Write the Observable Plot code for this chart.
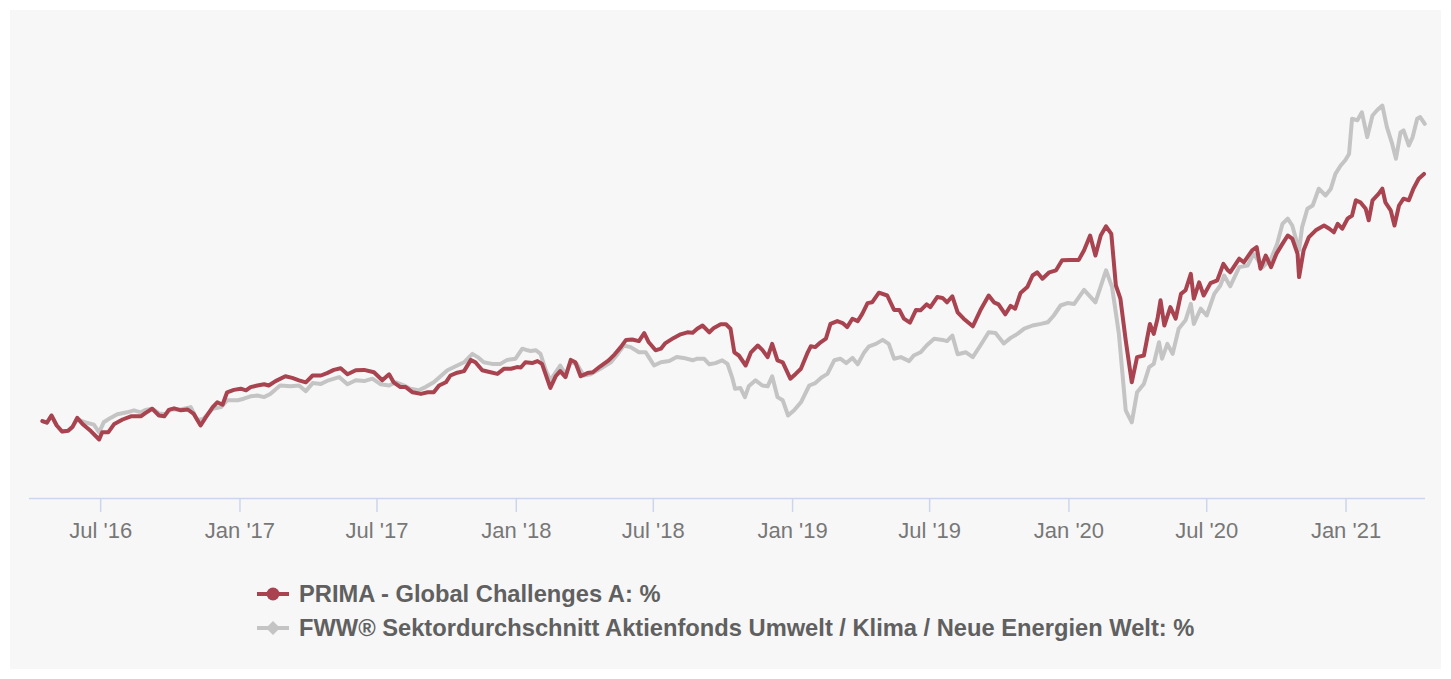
<!DOCTYPE html>
<html>
<head>
<meta charset="utf-8">
<script src="https://cdn.jsdelivr.net/npm/d3@7"></script>
<script src="https://cdn.jsdelivr.net/npm/@observablehq/plot@0.6"></script>
<style>
  html, body { margin: 0; padding: 0; background: #ffffff; }
  #wrap { position: relative; width: 1451px; height: 679px; overflow: hidden; font-family: "Liberation Sans", Arial, Helvetica, sans-serif; }
  #panel { position: absolute; left: 10px; top: 10px; width: 1431px; height: 659px; background: #f7f7f7; }
  #chart { position: absolute; left: 0; top: 0; }
  .leg { position: absolute; left: 256px; height: 28px; display: flex; align-items: center; font-weight: bold; font-size: 23.7px; color: #606060; line-height: 28px; white-space: nowrap; }
  .leg svg { margin-right: 9px; }
</style>
</head>
<body>
<div id="wrap">
  <div id="panel"></div>
  <div id="chart"></div>
  <div class="leg" id="leg1" style="top:580px"></div>
  <div class="leg" id="leg2" style="top:614px"></div>
</div>
<script>
// ---- Data (cumulative performance in %) ----
const seriesNames = [
  "PRIMA - Global Challenges A: %",
  "FWW® Sektordurchschnitt Aktienfonds Umwelt / Klima / Neue Energien Welt: %"
];
const seriesColors = ["#a8434f", "#c4c4c4"];

const prima = [
["2016-04-15",0.1],["2016-04-21",-0.3],["2016-04-27",1.5],["2016-05-04",-1.0],["2016-05-11",-2.5],["2016-05-19",-2.3],["2016-05-25",-1.3],["2016-05-31",0.9],["2016-06-07",-0.6],["2016-06-18",-2.4],["2016-06-29",-4.5],["2016-07-03",-2.7],["2016-07-11",-2.7],["2016-07-19",-0.6],["2016-07-30",0.5],["2016-08-10",1.3],["2016-08-23",1.3],["2016-08-29",2.1],["2016-09-07",3.2],["2016-09-16",1.5],["2016-09-23",1.3],["2016-09-29",2.9],["2016-10-06",3.3],["2016-10-15",2.8],["2016-10-24",3.0],["2016-11-01",1.9],["2016-11-10",-1.0],["2016-11-17",1.1],["2016-11-26",3.6],["2016-12-02",4.8],["2016-12-09",4.2],["2016-12-15",7.3],["2016-12-24",7.9],
["2017-01-02",8.2],["2017-01-09",7.8],["2017-01-15",8.6],["2017-01-24",9.0],["2017-02-02",9.3],["2017-02-08",9.0],["2017-02-17",10.1],["2017-03-02",11.3],["2017-03-11",10.9],["2017-03-20",10.3],["2017-03-29",9.8],["2017-04-07",11.5],["2017-04-18",11.5],["2017-04-26",12.1],["2017-05-05",12.9],["2017-05-14",13.3],["2017-05-23",11.8],["2017-06-03",12.8],["2017-06-14",12.9],["2017-06-27",12.3],["2017-07-08",10.3],["2017-07-17",11.8],["2017-07-23",9.8],["2017-08-01",8.6],["2017-08-08",8.6],["2017-08-17",7.3],["2017-08-28",6.9],["2017-09-06",7.3],["2017-09-14",7.3],["2017-09-21",9.0],["2017-09-30",9.8],["2017-10-06",11.5],["2017-10-15",12.2],["2017-10-24",12.6],["2017-11-02",15.4],["2017-11-08",14.8],["2017-11-17",12.8],["2017-11-28",12.3],["2017-12-07",11.9],["2017-12-16",13.2],["2017-12-25",13.2],
["2018-01-02",13.6],["2018-01-07",13.5],["2018-01-13",14.8],["2018-01-22",14.6],["2018-01-29",15.1],["2018-02-04",14.4],["2018-02-15",8.4],["2018-02-22",11.3],["2018-02-28",12.6],["2018-03-07",11.1],["2018-03-14",15.4],["2018-03-20",14.8],["2018-03-27",11.3],["2018-04-05",12.1],["2018-04-12",12.3],["2018-04-22",13.8],["2018-05-03",15.3],["2018-05-11",16.8],["2018-05-19",18.6],["2018-05-26",20.4],["2018-06-03",20.5],["2018-06-12",20.1],["2018-06-19",22.1],["2018-06-25",19.8],["2018-07-04",17.8],["2018-07-11",18.2],["2018-07-17",19.6],["2018-07-28",20.9],["2018-08-06",21.8],["2018-08-15",22.3],["2018-08-22",22.2],["2018-08-28",23.2],["2018-09-04",24.0],["2018-09-13",22.3],["2018-09-19",23.4],["2018-09-28",24.3],["2018-10-05",24.3],["2018-10-11",23.2],["2018-10-16",17.3],["2018-10-22",16.5],["2018-10-31",14.0],["2018-11-07",17.3],["2018-11-16",19.0],["2018-11-22",17.9],["2018-11-29",16.1],["2018-12-05",19.4],["2018-12-12",15.3],["2018-12-19",14.8],["2018-12-29",10.7],
["2019-01-05",11.9],["2019-01-12",13.2],["2019-01-21",17.3],["2019-01-25",18.8],["2019-01-31",18.6],["2019-02-07",19.8],["2019-02-14",20.7],["2019-02-20",24.4],["2019-03-01",25.1],["2019-03-08",24.6],["2019-03-14",23.6],["2019-03-21",25.7],["2019-03-28",25.1],["2019-04-03",26.9],["2019-04-10",29.6],["2019-04-16",29.8],["2019-04-25",32.2],["2019-05-06",31.5],["2019-05-15",27.9],["2019-05-22",27.9],["2019-05-28",25.7],["2019-06-05",24.7],["2019-06-13",27.9],["2019-06-19",27.8],["2019-06-27",29.3],["2019-07-02",28.6],["2019-07-11",31.1],["2019-07-18",30.9],["2019-07-24",29.8],["2019-07-31",31.3],["2019-08-07",27.3],["2019-08-15",25.7],["2019-08-27",23.8],["2019-09-06",27.8],["2019-09-17",31.5],["2019-09-24",29.8],["2019-09-30",29.3],["2019-10-09",26.8],["2019-10-16",28.9],["2019-10-22",28.2],["2019-10-29",32.1],["2019-11-07",33.6],["2019-11-14",36.5],["2019-11-20",37.3],["2019-11-27",35.7],["2019-12-06",37.3],["2019-12-15",37.8],["2019-12-23",40.3],
["2020-01-03",40.4],["2020-01-14",40.4],["2020-01-21",42.8],["2020-01-29",46.5],["2020-02-05",41.5],["2020-02-12",46.5],["2020-02-19",48.8],["2020-02-26",46.9],["2020-03-03",34.0],["2020-03-09",30.7],["2020-03-16",20.3],["2020-03-24",9.8],["2020-03-31",16.1],["2020-04-09",16.5],["2020-04-17",24.4],["2020-04-22",21.9],["2020-04-27",25.7],["2020-05-01",30.3],["2020-05-06",24.0],["2020-05-14",28.6],["2020-05-21",25.7],["2020-05-28",31.9],["2020-06-03",32.8],["2020-06-10",36.9],["2020-06-14",30.7],["2020-06-21",34.8],["2020-06-27",31.5],["2020-07-06",34.6],["2020-07-15",35.3],["2020-07-23",39.4],["2020-07-29",37.8],["2020-08-01",37.3],["2020-08-13",40.7],["2020-08-19",39.8],["2020-08-30",42.8],["2020-09-05",43.6],["2020-09-10",38.2],["2020-09-17",41.5],["2020-09-24",38.6],["2020-10-01",41.9],["2020-10-09",44.4],["2020-10-16",46.5],["2020-10-22",45.7],["2020-10-29",41.9],["2020-10-31",36.1],["2020-11-06",42.8],["2020-11-13",46.1],["2020-11-22",47.8],["2020-12-03",49.0],["2020-12-10",48.2],["2020-12-16",47.3],["2020-12-21",49.4],["2020-12-27",48.2],
["2021-01-03",50.7],["2021-01-09",51.5],["2021-01-14",55.3],["2021-01-20",54.8],["2021-01-27",53.2],["2021-01-31",50.3],["2021-02-05",55.3],["2021-02-13",56.9],["2021-02-18",58.2],["2021-02-22",54.8],["2021-03-01",52.8],["2021-03-06",49.0],["2021-03-12",54.0],["2021-03-18",55.7],["2021-03-25",55.3],["2021-03-31",58.2],["2021-04-07",60.7],["2021-04-14",61.9]
];

const sector = [
["2016-04-15",0.1],["2016-04-21",-0.3],["2016-04-27",1.5],["2016-05-04",-1.0],["2016-05-11",-2.5],["2016-05-19",-2.3],["2016-05-25",-1.3],["2016-05-31",0.5],["2016-06-11",-0.2],["2016-06-22",-0.8],["2016-06-29",-2.7],["2016-07-05",-0.2],["2016-07-14",0.9],["2016-07-23",1.8],["2016-08-05",2.3],["2016-08-14",2.8],["2016-08-23",2.3],["2016-08-29",2.9],["2016-09-07",3.2],["2016-09-16",2.0],["2016-09-25",1.8],["2016-10-01",3.0],["2016-10-15",3.0],["2016-10-28",3.6],["2016-11-06",0.3],["2016-11-14",0.7],["2016-11-26",3.2],["2016-12-07",3.6],["2016-12-15",5.3],["2016-12-29",5.3],
["2017-01-06",5.7],["2017-01-15",6.3],["2017-01-24",6.5],["2017-02-02",6.1],["2017-02-10",6.9],["2017-02-23",9.0],["2017-03-09",8.8],["2017-03-20",9.0],["2017-03-29",7.6],["2017-04-07",9.6],["2017-04-18",9.4],["2017-04-28",10.3],["2017-05-12",11.1],["2017-05-23",9.3],["2017-06-03",10.3],["2017-06-14",10.1],["2017-06-25",10.7],["2017-07-06",9.3],["2017-07-17",9.0],["2017-07-26",9.8],["2017-08-06",9.0],["2017-08-14",8.2],["2017-08-25",7.8],["2017-09-03",8.6],["2017-09-14",9.8],["2017-09-23",11.3],["2017-10-02",12.8],["2017-10-15",14.0],["2017-10-24",14.8],["2017-11-04",16.9],["2017-11-11",16.1],["2017-11-19",14.8],["2017-11-30",14.4],["2017-12-11",14.4],["2017-12-20",15.4],["2017-12-31",15.7],
["2018-01-09",18.2],["2018-01-16",17.8],["2018-01-20",17.6],["2018-01-27",17.8],["2018-02-02",16.9],["2018-02-09",12.8],["2018-02-15",10.3],["2018-02-22",12.3],["2018-02-28",14.0],["2018-03-07",11.8],["2018-03-14",14.8],["2018-03-22",14.4],["2018-03-31",11.5],["2018-04-09",11.8],["2018-04-22",13.2],["2018-05-06",14.8],["2018-05-15",16.9],["2018-05-23",19.0],["2018-06-01",18.6],["2018-06-12",17.3],["2018-06-21",17.3],["2018-06-25",16.1],["2018-07-02",14.0],["2018-07-11",14.8],["2018-07-22",15.1],["2018-08-01",16.1],["2018-08-10",15.9],["2018-08-22",15.3],["2018-08-28",15.7],["2018-09-06",15.7],["2018-09-13",14.3],["2018-09-21",14.6],["2018-09-30",15.3],["2018-10-07",14.4],["2018-10-13",11.1],["2018-10-17",8.2],["2018-10-24",8.4],["2018-10-30",6.1],["2018-11-04",8.8],["2018-11-13",10.3],["2018-11-22",9.0],["2018-11-29",8.8],["2018-12-05",11.3],["2018-12-12",6.1],["2018-12-19",5.3],["2018-12-26",1.5],
["2019-01-03",2.8],["2019-01-12",4.8],["2019-01-23",9.0],["2019-01-31",9.6],["2019-02-09",11.1],["2019-02-16",11.9],["2019-02-25",15.3],["2019-03-05",15.7],["2019-03-13",14.6],["2019-03-21",15.9],["2019-03-28",14.3],["2019-04-05",17.1],["2019-04-12",18.8],["2019-04-21",19.4],["2019-04-30",20.4],["2019-05-08",19.4],["2019-05-15",15.7],["2019-05-24",16.1],["2019-06-04",15.1],["2019-06-10",16.5],["2019-06-19",17.3],["2019-06-27",19.0],["2019-07-07",20.7],["2019-07-18",20.4],["2019-07-24",20.1],["2019-07-31",21.5],["2019-08-07",16.8],["2019-08-18",17.3],["2019-08-27",16.1],["2019-09-06",19.0],["2019-09-17",22.3],["2019-09-26",22.1],["2019-10-07",19.5],["2019-10-16",20.9],["2019-10-25",21.9],["2019-11-03",23.2],["2019-11-14",24.0],["2019-11-25",24.4],["2019-12-04",24.8],["2019-12-12",26.5],["2019-12-21",29.0],["2019-12-30",29.6],
["2020-01-08",29.4],["2020-01-21",32.9],["2020-02-05",29.8],["2020-02-19",37.8],["2020-02-27",33.6],["2020-03-07",21.9],["2020-03-16",2.8],["2020-03-24",-0.2],["2020-03-31",7.3],["2020-04-09",9.4],["2020-04-16",13.6],["2020-04-22",14.4],["2020-04-29",19.8],["2020-05-03",15.7],["2020-05-10",19.4],["2020-05-17",16.9],["2020-05-25",23.2],["2020-06-03",25.3],["2020-06-10",29.4],["2020-06-14",24.4],["2020-06-23",28.2],["2020-07-01",26.5],["2020-07-11",31.9],["2020-07-19",34.0],["2020-07-24",36.5],["2020-08-01",33.8],["2020-08-13",38.6],["2020-08-24",39.0],["2020-09-01",41.9],["2020-09-13",38.6],["2020-09-24",40.7],["2020-10-02",44.4],["2020-10-09",49.4],["2020-10-16",50.7],["2020-10-22",49.0],["2020-10-31",42.8],["2020-11-04",48.6],["2020-11-11",53.2],["2020-11-18",54.0],["2020-11-26",58.2],["2020-12-05",56.5],["2020-12-12",58.2],["2020-12-18",61.9],["2020-12-25",64.0],["2020-12-31",65.3],
["2021-01-05",66.9],["2021-01-09",75.7],["2021-01-16",75.3],["2021-01-22",77.3],["2021-01-29",71.1],["2021-02-05",76.5],["2021-02-11",77.8],["2021-02-18",79.0],["2021-02-24",73.6],["2021-03-03",69.4],["2021-03-08",65.7],["2021-03-14",72.3],["2021-03-18",72.8],["2021-03-25",69.0],["2021-03-30",71.1],["2021-04-05",75.7],["2021-04-09",76.1],["2021-04-15",74.4]
];

const tickDates = ["2016-07-01","2017-01-01","2017-07-01","2018-01-01","2018-07-01","2019-01-01","2019-07-01","2020-01-01","2020-07-01","2021-01-01"];
const xDomain = ["2016-03-29","2021-04-16"];
const yDomain = [-19.25, 80];

// ---- Build table ----
const parse = d3.utcParse("%Y-%m-%d");
const rows = [
  ...sector.map(([d, v]) => ({date: parse(d), value: v, series: seriesNames[1]})),
  ...prima.map(([d, v]) => ({date: parse(d), value: v, series: seriesNames[0]}))
];
const fmt = d3.utcFormat("%b '%y");

const chart = Plot.plot({
  width: 1451,
  height: 560,
  marginLeft: 29,
  marginRight: 26,
  marginTop: 101,
  marginBottom: 62,
  style: {fontSize: "22px", fontFamily: '"Liberation Sans", Arial, Helvetica, sans-serif', background: "transparent", overflow: "visible"},
  x: {type: "utc", domain: xDomain.map(parse)},
  y: {domain: yDomain, axis: null},
  color: {domain: seriesNames, range: seriesColors},
  marks: [
    Plot.ruleY([yDomain[0]], {stroke: "#ccd6eb", strokeWidth: 1.5}),
    Plot.axisX({ticks: tickDates.map(parse), tickFormat: fmt, tickSize: 14, tickPadding: 10, stroke: "#ccd6eb", strokeWidth: 1.5, strokeOpacity: 1, fill: "#777777", label: null}),
    Plot.line(rows.filter(r => r.series === seriesNames[1]), {x: "date", y: "value", stroke: "series", strokeWidth: 4, strokeLinejoin: "round", strokeLinecap: "round"}),
    Plot.line(rows.filter(r => r.series === seriesNames[0]), {x: "date", y: "value", stroke: "series", strokeWidth: 4, strokeLinejoin: "round", strokeLinecap: "round"})
  ]
});
document.getElementById("chart").appendChild(chart);

// ---- Legend ----
function legendSymbol(color, shape) {
  const ns = "http://www.w3.org/2000/svg";
  const s = document.createElementNS(ns, "svg");
  s.setAttribute("width", 34); s.setAttribute("height", 16);
  const l = document.createElementNS(ns, "line");
  l.setAttribute("x1", 1); l.setAttribute("x2", 33); l.setAttribute("y1", 8); l.setAttribute("y2", 8);
  l.setAttribute("stroke", color); l.setAttribute("stroke-width", 4);
  s.appendChild(l);
  if (shape === "circle") {
    const c = document.createElementNS(ns, "circle");
    c.setAttribute("cx", 17); c.setAttribute("cy", 8); c.setAttribute("r", 6.5); c.setAttribute("fill", color);
    s.appendChild(c);
  } else {
    const p = document.createElementNS(ns, "path");
    p.setAttribute("d", "M17,1 L24,8 L17,15 L10,8 Z"); p.setAttribute("fill", color);
    s.appendChild(p);
  }
  return s;
}
const l1 = document.getElementById("leg1");
l1.appendChild(legendSymbol(seriesColors[0], "circle"));
l1.appendChild(document.createTextNode(seriesNames[0]));
const l2 = document.getElementById("leg2");
l2.appendChild(legendSymbol(seriesColors[1], "diamond"));
l2.appendChild(document.createTextNode(seriesNames[1]));
</script>
</body>
</html>
